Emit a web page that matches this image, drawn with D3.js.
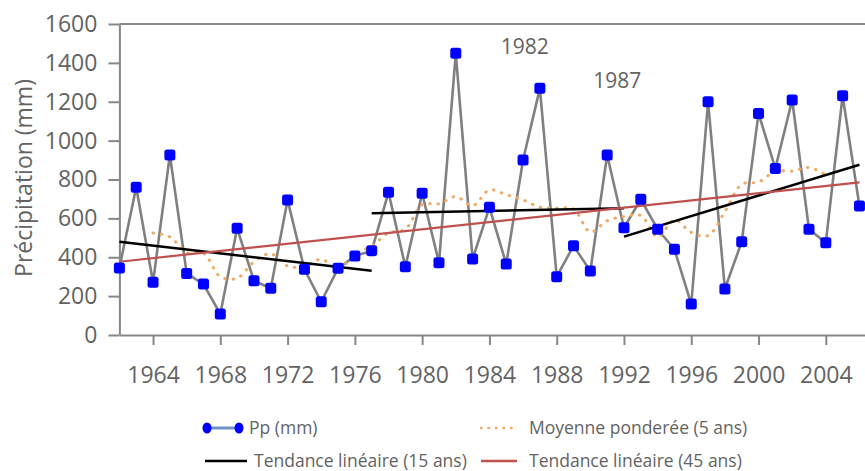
<!DOCTYPE html>
<html>
<head>
<meta charset="utf-8">
<script src="https://cdn.jsdelivr.net/npm/d3@7"></script>
<style>
  body { margin: 0; background: #fff; }
  text { font-family: "Open Sans", sans-serif; }
</style>
</head>
<body>
<div id="chart"></div>
<script>
const years = [1962, 1963, 1964, 1965, 1966, 1967, 1968, 1969, 1970, 1971,
    1972, 1973, 1974, 1975, 1976, 1977, 1978, 1979, 1980, 1981,
    1982, 1983, 1984, 1985, 1986, 1987, 1988, 1989, 1990, 1991,
    1992, 1993, 1994, 1995, 1996, 1997, 1998, 1999, 2000, 2001,
    2002, 2003, 2004, 2005, 2006];
const precip = [345, 760, 271, 926, 317, 262, 108, 549, 279, 240,
    694, 338, 171, 343, 406, 434, 734, 351, 729, 372,
    1449, 391, 657, 365, 900, 1269, 300, 459, 329, 926,
    552, 698, 544, 441, 159, 1200, 237, 480, 1140, 857,
    1209, 544, 475, 1231, 664];

// moyenne pondérée (5 ans), 1964-2004
const maYears = years.slice(2, 43);
const maValues = [525, 505, 425, 420, 300, 292, 376, 418, 355, 352,
    390, 340, 415, 458, 525, 545, 670, 675, 712, 665,
    746, 722, 695, 658, 652, 648, 530, 588, 609, 615,
    505, 592, 528, 512, 635, 775, 787, 842, 843, 862, 823];

// tendances linéaires (début, fin)
const trend15Years = [[1962, 1977], [1977, 1992], [1992, 2006]];
const trend15Values = [[480, 330], [626, 652], [506, 876]];
const trend45Years = [1962, 2006];
const trend45Values = [377, 785];

const yTicks = [0, 200, 400, 600, 800, 1000, 1200, 1400, 1600];
const xTicks = [1964, 1968, 1972, 1976, 1980, 1984, 1988, 1992, 1996, 2000, 2004];

const labels = [
    { text: '1982', year: 1986.1, value: 1445 },
    { text: '1987', year: 1991.6, value: 1272 }
];

const width = 865;
const height = 471;
const margin = { top: 24, right: 0, bottom: 136, left: 119.4 };

const svg = d3.select('#chart')
    .append('svg')
    .attr('width', width)
    .attr('height', height);

const x = d3.scaleLinear()
    .domain([1962, 2006.33])
    .range([margin.left, width - margin.right]);

const y = d3.scaleLinear()
    .domain([0, 1600])
    .range([height - margin.bottom, margin.top]);

const axisColor = '#878787';
const textColor = '#636363';

// top border
svg.append('line')
    .attr('x1', x(1962)).attr('x2', width)
    .attr('y1', y(1600)).attr('y2', y(1600))
    .attr('stroke', axisColor)
    .attr('stroke-width', 2);

// axes
const yAxis = svg.append('g')
    .attr('transform', `translate(${margin.left},0)`)
    .call(d3.axisLeft(y).tickValues(yTicks).tickFormat(d3.format('d'))
        .tickSize(11).tickPadding(11).tickSizeOuter(0));

const xAxis = svg.append('g')
    .attr('transform', `translate(0,${y(0)})`)
    .call(d3.axisBottom(x).tickValues(xTicks).tickFormat(d3.format('d'))
        .tickSize(10).tickPadding(22).tickSizeOuter(0));

[yAxis, xAxis].forEach(g => {
    g.select('.domain').attr('stroke', axisColor).attr('stroke-width', 2);
    g.selectAll('.tick line').attr('stroke', axisColor).attr('stroke-width', 2);
    g.selectAll('.tick text')
        .attr('fill', textColor)
        .style('font-size', '23px');
});

svg.append('text')
    .attr('transform', `translate(32,178) rotate(-90)`)
    .attr('text-anchor', 'middle')
    .attr('fill', textColor)
    .style('font-size', '23px')
    .text('Précipitation (mm)');

// series line
const line = d3.line()
    .x((d, i) => x(years[i]))
    .y(d => y(d));

svg.append('path')
    .datum(precip)
    .attr('d', line)
    .attr('fill', 'none')
    .attr('stroke', '#808080')
    .attr('stroke-width', 2.6);

// moving average
const maLine = d3.line()
    .x((d, i) => x(maYears[i]))
    .y(d => y(d))
    .curve(d3.curveCatmullRom);

svg.append('path')
    .datum(maValues)
    .attr('d', maLine)
    .attr('fill', 'none')
    .attr('stroke', '#eeaa66')
    .attr('stroke-width', 3)
    .attr('stroke-linecap', 'round')
    .attr('stroke-dasharray', '0.5 7.8');

// trends
svg.selectAll('.trend15')
    .data(trend15Years)
    .join('line')
    .attr('class', 'trend15')
    .attr('x1', d => x(d[0]))
    .attr('x2', d => x(d[1]))
    .attr('y1', (d, i) => y(trend15Values[i][0]))
    .attr('y2', (d, i) => y(trend15Values[i][1]))
    .attr('stroke', '#000')
    .attr('stroke-width', 2.5);

svg.append('line')
    .attr('x1', x(trend45Years[0]))
    .attr('x2', x(trend45Years[1]))
    .attr('y1', y(trend45Values[0]))
    .attr('y2', y(trend45Values[1]))
    .attr('stroke', '#c0504d')
    .attr('stroke-width', 2.2);

// markers
const ms = 11;
svg.selectAll('.marker')
    .data(precip)
    .join('rect')
    .attr('class', 'marker')
    .attr('x', (d, i) => x(years[i]) - ms / 2)
    .attr('y', d => y(d) - ms / 2)
    .attr('width', ms)
    .attr('height', ms)
    .attr('rx', 2.5)
    .attr('fill', '#0000ff');

// annotations
svg.selectAll('.annot')
    .data(labels)
    .join('text')
    .attr('class', 'annot')
    .attr('x', d => x(d.year))
    .attr('y', d => y(d.value))
    .attr('text-anchor', 'middle')
    .attr('fill', textColor)
    .style('font-size', '21px')
    .text(d => d.text);

// legend
const legend = svg.append('g').style('font-size', '17.5px');
const row1 = 428, row2 = 461;

legend.append('line')
    .attr('x1', 207).attr('x2', 239).attr('y1', row1).attr('y2', row1)
    .attr('stroke', '#6f8fc8').attr('stroke-width', 3);
[207, 239].forEach(cx => legend.append('ellipse')
    .attr('cx', cx).attr('cy', row1).attr('rx', 4.5).attr('ry', 5.5)
    .attr('fill', '#0000ff'));
legend.append('text').attr('x', 249).attr('y', row1).attr('dy', '0.35em')
    .attr('fill', textColor).text('Pp (mm)');

legend.append('line')
    .attr('x1', 481).attr('x2', 515).attr('y1', row1).attr('y2', row1)
    .attr('stroke', '#eeaa66').attr('stroke-width', 2.5)
    .attr('stroke-linecap', 'round').attr('stroke-dasharray', '0.5 7');
legend.append('text').attr('x', 529).attr('y', row1).attr('dy', '0.35em')
    .attr('fill', textColor).text('Moyenne ponderée (5 ans)');

legend.append('line')
    .attr('x1', 205).attr('x2', 247).attr('y1', row2).attr('y2', row2)
    .attr('stroke', '#000').attr('stroke-width', 2.5);
legend.append('text').attr('x', 254).attr('y', row2).attr('dy', '0.35em')
    .attr('fill', textColor).text('Tendance linéaire (15 ans)');

legend.append('line')
    .attr('x1', 481).attr('x2', 517).attr('y1', row2).attr('y2', row2)
    .attr('stroke', '#c0504d').attr('stroke-width', 2.5);
legend.append('text').attr('x', 529).attr('y', row2).attr('dy', '0.35em')
    .attr('fill', textColor).text('Tendance linéaire (45 ans)');
</script>
</body>
</html>
